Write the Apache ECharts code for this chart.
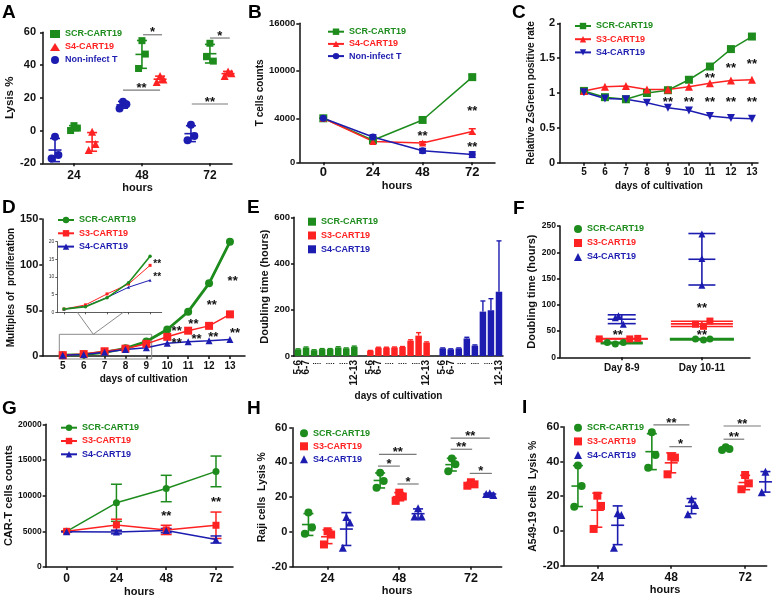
<!DOCTYPE html>
<html>
<head>
<meta charset="utf-8">
<script src="https://cdn.jsdelivr.net/npm/echarts@6.0.0/dist/echarts.min.js"></script>
<style>
html,body{margin:0;padding:0;background:#fff;}
#chart{width:778px;height:596px;}
</style>
</head>
<body>
<div id="chart"></div>
<script>
// ================= DATA =================
// Panel A : Lysis % (three replicates per group)
const A_hours = [24, 48, 72];
const A_scr = [[3, 1.5, 0], [54.9, 46.7, 37.9], [53.3, 42.4, 45.1]];
const A_s4  = [[-0.7, -8.2, -11.9], [33.3, 31.2, 29.6], [36, 35, 33.3]];
const A_non = [[-3.8, -14.9, -17], [17.6, 16, 13.5], [3.5, -3.3, -5.9]];
const A_sig = [[48.4, 55.1, 58.5, '*'], [41.3, 54.4, 24.7, '**'], [72, 79, 56.5, '*'], [65.6, 78.4, 16.2, '**']];

// Panel B : T cells counts
const B_hours = [0, 24, 48, 72];
const B_scr = [4000, 2000, 3850, 9200];
const B_scrSD = [0, 150, 200, 300];
const B_s4 = [4000, 1900, 1750, 2800];
const B_s4SD = [0, 100, 120, 250];
const B_non = [4000, 2300, 1050, 700];
const B_nonSD = [0, 200, 200, 250];
const B_yTicks = [0, 4000, 10000, 16000];
const B_stars = [[48, 2660, '**'], [72, 5300, '**'], [72, 1660, '**']];

// Panel C : Relative ZsGreen positive rate
const C_days = [5, 6, 7, 8, 9, 10, 11, 12, 13];
const C_scr = [1.03, 0.94, 0.91, 1.0, 1.04, 1.19, 1.38, 1.63, 1.81];
const C_s3  = [1.03, 1.09, 1.10, 1.05, 1.05, 1.09, 1.14, 1.18, 1.19];
const C_s4  = [1.01, 0.92, 0.91, 0.86, 0.79, 0.75, 0.67, 0.64, 0.63];
const C_stars = [[9, 0.914, '**'], [10, 0.914, '**'], [11, 0.914, '**'], [12, 0.914, '**'], [13, 0.914, '**'],
                 [11, 1.25, '**'], [12, 1.39, '**'], [13, 1.46, '**']];

// Panel D : Multiples of proliferation
const D_days = [5, 6, 7, 8, 9, 10, 11, 12, 13];
const D_scr = [0.9, 1.6, 4.1, 8.4, 15.9, 29, 48.5, 79.6, 125];
const D_s3  = [0.9, 2.1, 5.2, 8.0, 13.3, 21, 27.7, 33, 45.6];
const D_s4  = [0.9, 1.7, 4.2, 7.1, 9.1, 14, 15.7, 16.8, 18];
const D_insetDays = [5, 6, 7, 8, 9];
const D_stars = [[10.45, 30.3, '**'], [10.45, 16.8, '**'], [11.25, 38.3, '**'], [11.4, 21.2, '**'],
                 [12.13, 58.8, '**'], [12.2, 23.8, '**'], [13.13, 85, '**'], [13.24, 28.5, '**']];
const D_insetStars = [[9.33, 14.5, '**'], [9.33, 10.85, '**']];

// Panel E : Doubling time (hours) per interval
const E_labels = ['5-6', '6-7', '', '', '', '', '', '12-13'];
const E_scr = [29, 36, 25, 30, 30, 37, 33, 40];
const E_scrErr = [2, 3, 2, 2, 2, 3, 2, 3];
const E_s3  = [23, 36, 36, 37, 39, 66, 88, 58];
const E_s3Err = [1, 2, 2, 2, 2, 4, 13, 3];
const E_s4  = [33, 29, 33, 76, 45, 192, 198, 278];
const E_s4Err = [2, 2, 2, 5, 3, 46, 50, 220];

// Panel F : Doubling time (hours)
const F_groups = ['Day 8-9', 'Day 10-11'];
const F_scr = [[28, 25.5, 28], [35, 33, 35]];
const F_s3  = [[35, 35, 36], [63, 59, 69]];
const F_s4  = [[75.5, 79, 63], [235, 188, 137]];
const F_stars = [[0.95, 48, '**'], [2, 99.4, '**'], [2, 46.8, '**']];

// Panel G : CAR-T cells counts
const G_hours = [0, 24, 48, 72];
const G_scr = [5000, 9000, 11000, 13400];
const G_scrSD = [0, 2600, 1850, 2150];
const G_s3 = [5000, 5900, 5200, 5850];
const G_s3SD = [0, 800, 650, 1850];
const G_s4 = [4950, 4900, 5100, 3850];
const G_s4SD = [0, 250, 300, 500];
const G_stars = [[48, 7520, '**'], [72, 9520, '**']];

// Panel H : Raji cells Lysis %
const H_hours = [24, 48, 72];
const H_scr = [[11.2, 2.6, -1], [34.1, 29.3, 25.5], [42.3, 38.9, 35]];
const H_s3  = [[0.4, -1.5, -7.2], [22.6, 20.4, 17.9], [28.6, 27.4, 26.6]];
const H_s4  = [[8.6, 5.5, -9.1], [13.7, 8.9, 8.9], [22.3, 21.3, 21.9]];
const H_sig = [[40.9, 48.2, 37.9, '*'], [41.2, 53.8, 44.6, '**'], [47.4, 54.5, 27.6, '*'],
               [65.2, 78.3, 54, '**'], [65.2, 72.4, 47.6, '**'], [71.6, 79, 33.7, '*']];

// Panel I : A549-19 cells Lysis %
const I_hours = [24, 48, 72];
const I_scr = [[37.6, 25.9, 14], [56.8, 43.7, 36.4], [48.2, 47.2, 46.6]];
const I_s3  = [[20.3, 14.4, 1.15], [42.8, 42.2, 32.6], [32.2, 27.4, 24]];
const I_s4  = [[10.2, 9.2, -9.6], [18.2, 15, 9.6], [34.1, 28.4, 22.3]];
const I_sig = [[42.2, 53.9, 61, '**'], [47.4, 54.7, 48.5, '*'], [65, 77.1, 60.4, '**'], [65, 71.7, 52.8, '**']];

// ================= STYLE =================
const FONT = '"Liberation Sans", Arial, sans-serif';
const INK = '#111';
const GREEN = '#1d8c1d', RED = '#ff2222', BLUE = '#1c1cb0';
const DOWN_TRI = 'path://M0,0L10,0L5,9Z';
const STAR_DY = 3;   // glyph centre correction for asterisks
const SIG_DY = 2;    // asterisk above bracket line
const JIT = [0, 1.2, -1.2];
const plain = v => String(v);

function merge(a, b) {
  const o = Object.assign({}, a);
  for (const k in b) {
    const bv = b[k], av = a[k];
    if (bv && typeof bv === 'object' && !Array.isArray(bv) && av && typeof av === 'object' && !Array.isArray(av)) o[k] = merge(av, bv);
    else o[k] = bv;
  }
  return o;
}
function axis(type, gi, extra) {
  const base = {
    type: type, gridIndex: gi,
    axisLine: {show: true, onZero: false, lineStyle: {color: INK, width: 1.5}},
    axisTick: {show: true, length: 3, inside: false, lineStyle: {color: INK, width: 1.5}},
    splitLine: {show: false},
    axisLabel: {color: INK, fontWeight: 'bold', fontFamily: FONT, fontSize: 11, margin: 5, showMinLabel: true, showMaxLabel: true, hideOverlap: false},
    nameLocation: 'middle',
    nameTextStyle: {color: INK, fontWeight: 'bold', fontFamily: FONT, fontSize: 11}
  };
  if (type === 'value') base.axisLabel.formatter = plain;
  return merge(base, extra || {});
}
const mean = a => a.reduce((s, v) => s + v, 0) / a.length;
const sd = a => { const m = mean(a); return Math.sqrt(a.reduce((s, v) => s + (v - m) * (v - m), 0) / (a.length - 1)); };

function errRender(opt) {
  return function (params, api) {
    const x = api.value(0), m = api.value(1), lo = api.value(2), hi = api.value(3);
    const c = api.coord([x, m]), pl = api.coord([x, lo]), ph = api.coord([x, hi]);
    const st = {stroke: opt.color, lineWidth: opt.lw, fill: null};
    const mw = typeof opt.meanW === 'function' ? opt.meanW(params.dataIndex) : opt.meanW;
    const cw = typeof opt.capW === 'function' ? opt.capW(params.dataIndex) : opt.capW;
    const ch = [];
    ch.push({type: 'line', shape: {x1: c[0], y1: ph[1], x2: c[0], y2: opt.upperOnly ? c[1] : pl[1]}, style: st});
    ch.push({type: 'line', shape: {x1: c[0] - cw / 2, y1: ph[1], x2: c[0] + cw / 2, y2: ph[1]}, style: st});
    if (!opt.upperOnly) ch.push({type: 'line', shape: {x1: c[0] - cw / 2, y1: pl[1], x2: c[0] + cw / 2, y2: pl[1]}, style: st});
    if (mw > 0) ch.push({type: 'line', shape: {x1: c[0] - mw / 2, y1: c[1], x2: c[0] + mw / 2, y2: c[1]}, style: st});
    return {type: 'group', children: ch};
  };
}

function dotPlot(gi, key, name, xs, reps, offset, jit, color, symbol, size, meanW, capW) {
  const pts = [], eb = [];
  reps.forEach((r, g) => {
    const cx = xs[g] + offset;
    const jj = Array.isArray(jit[0]) ? jit[g] : jit;
    r.forEach((v, k) => pts.push([cx + jj[k], v]));
    const m = mean(r), s = sd(r);
    eb.push([cx, m, m - s, m + s]);
  });
  return [
    {type: 'scatter', name: key + '|' + name, xAxisIndex: gi, yAxisIndex: gi, data: pts, symbol: symbol, symbolSize: size, itemStyle: {color: color, opacity: 1}, z: 4},
    {type: 'custom', xAxisIndex: gi, yAxisIndex: gi, data: eb, renderItem: errRender({meanW: meanW, capW: capW, lw: 1.6, color: color}), z: 3}
  ];
}

function lineSeries(gi, key, name, xs, ys, color, symbol, size, lw, sds, capW, tf) {
  tf = tf || (v => v);
  const s = [{type: 'line', name: key ? key + '|' + name : undefined, xAxisIndex: gi, yAxisIndex: gi,
    data: xs.map((x, i) => [x, tf(ys[i])]), symbol: symbol, symbolSize: size, showSymbol: true,
    lineStyle: {color: color, width: lw}, itemStyle: {color: color}, z: 4}];
  if (sds) s.push({type: 'custom', xAxisIndex: gi, yAxisIndex: gi,
    data: xs.map((x, i) => [x, tf(ys[i]), tf(ys[i] - sds[i]), tf(ys[i] + sds[i])]),
    renderItem: errRender({meanW: 0, capW: capW, lw: 1.5, color: color}), z: 3});
  return s;
}

function starSeries(gi, items, fs, tf) {
  tf = tf || (v => v);
  return {type: 'custom', xAxisIndex: gi, yAxisIndex: gi, z: 6, silent: true,
    data: items.map(d => [d[0], tf(d[1])]),
    renderItem: function (params, api) {
      const p = api.coord([api.value(0), api.value(1)]);
      return {type: 'text', x: p[0], y: p[1] + STAR_DY,
        style: {text: items[params.dataIndex][2], fill: INK, fontSize: fs, fontWeight: 'bold', fontFamily: FONT, align: 'center', verticalAlign: 'middle'}};
    }};
}
function sigSeries(gi, items, fs) {
  return {type: 'custom', xAxisIndex: gi, yAxisIndex: gi, z: 6, silent: true,
    data: items.map(d => [d[0], d[1], d[2]]),
    renderItem: function (params, api) {
      const a = api.coord([api.value(0), api.value(2)]), b = api.coord([api.value(1), api.value(2)]);
      return {type: 'group', children: [
        {type: 'line', shape: {x1: a[0], y1: a[1], x2: b[0], y2: b[1]}, style: {stroke: '#7a7a7a', lineWidth: 1.2}},
        {type: 'text', x: (a[0] + b[0]) / 2, y: a[1] - SIG_DY,
          style: {text: items[params.dataIndex][3], fill: INK, fontSize: fs, fontWeight: 'bold', fontFamily: FONT, align: 'center', verticalAlign: 'middle'}}
      ]};
    }};
}

function legend(key, names, colors, left, top, gap, iw, ih, icons) {
  return {
    left: left, top: top, orient: 'vertical', padding: 0, itemGap: gap, itemWidth: iw, itemHeight: ih,
    selectedMode: false,
    formatter: n => n.split('|')[1],
    textStyle: {fontSize: 9, fontWeight: 'bold', fontFamily: FONT, lineHeight: 10, padding: [0, 0, 0, 0]},
    data: names.map((n, i) => {
      const d = {name: key + '|' + n, textStyle: {color: colors[i]}};
      if (icons && icons[i]) d.icon = icons[i];
      return d;
    })
  };
}

// B: Prism-style two-segment y scale (0-4000 and 4000-16000)
const bY = v => v <= 4000 ? v / 4000 * 44 : 44 + (v - 4000) / 12000 * 95;

// ================= LAYOUT =================
const G_ = (l, t, w, h) => ({left: l, top: t, width: w, height: h, containLabel: false, outerBoundsMode: 'none', show: false});
const grids = [
  G_(43, 32.3, 189, 131),        // 0 A
  G_(299.3, 23.3, 195.7, 139),   // 1 B
  G_(560, 23.3, 198, 139.4),     // 2 C
  G_(42.3, 219, 202.7, 137),     // 3 D
  G_(57.3, 241.7, 104.4, 70.6),  // 4 D inset
  G_(294, 217.3, 209, 138.7),    // 5 E
  G_(560, 226, 190, 131.3),      // 6 F
  G_(45.7, 424.3, 187.3, 142.7), // 7 G
  G_(292.3, 427.7, 209.4, 139),  // 8 H
  G_(563.3, 426.7, 203.4, 139)   // 9 I
];

// E categories
const E_cats = [], E_lab = [];
for (let g = 0; g < 3; g++) {
  for (let i = 0; i < E_labels.length; i++) { E_cats.push('g' + g + 'i' + i); E_lab.push(E_labels[i]); }
  if (g < 2) { E_cats.push('gap' + g); E_lab.push(''); }
}
function eBars(vals, g) { const d = E_cats.map(() => '-'); vals.forEach((v, i) => { d[g * 9 + i] = v; }); return d; }
function eErr(vals, errs, g) { return vals.map((v, i) => [g * 9 + i, v, v, v + errs[i]]); }

const xAxes = [
  axis('value', 0, {min: 13.06, max: 79.8, name: 'hours', nameGap: 19, axisLabel: {customValues: A_hours, fontSize: 12, margin: 6}, axisTick: {customValues: A_hours}}),
  axis('value', 1, {min: -11.6, max: 83, name: 'hours', nameGap: 17, axisLabel: {customValues: B_hours, fontSize: 13, margin: 4}, axisTick: {customValues: B_hours}}),
  axis('value', 2, {min: 3.86, max: 13.29, name: 'days of cultivation', nameGap: 19, nameTextStyle: {fontSize: 10}, axisLabel: {customValues: C_days, fontSize: 10, margin: 5}, axisTick: {customValues: C_days}}),
  axis('value', 3, {min: 4.02, max: 13.72, name: 'days of cultivation', nameGap: 18, nameTextStyle: {fontSize: 10}, axisLabel: {customValues: D_days, fontSize: 10, margin: 5}, axisTick: {customValues: D_days}}),
  axis('value', 4, {min: 4.69, max: 9.54, axisLine: {lineStyle: {width: 0.8, color: '#333'}}, axisTick: {customValues: D_insetDays, length: 2, lineStyle: {width: 0.8, color: '#333'}}, axisLabel: {show: false}}),
  axis('category', 5, {data: E_cats, boundaryGap: true, name: 'days of cultivation', nameGap: 35, nameTextStyle: {fontSize: 10},
    axisTick: {show: false}, axisLabel: {interval: 0, rotate: 90, fontSize: 10, margin: 4, formatter: (v, i) => E_lab[i]}}),
  axis('value', 6, {min: 0.23, max: 2.6, axisLabel: {customValues: [1, 2], fontSize: 10, margin: 6, formatter: v => F_groups[Math.round(v) - 1]}, axisTick: {customValues: [1, 2]}}),
  axis('value', 7, {min: -10.1, max: 80.2, name: 'hours', nameGap: 19, axisLabel: {customValues: G_hours, fontSize: 12, margin: 6}, axisTick: {customValues: G_hours}}),
  axis('value', 8, {min: 12.2, max: 82.3, name: 'hours', nameGap: 19, axisLabel: {customValues: H_hours, fontSize: 12.5, margin: 5}, axisTick: {customValues: H_hours}}),
  axis('value', 9, {min: 12.95, max: 79, name: 'hours', nameGap: 18, axisLabel: {customValues: I_hours, fontSize: 12, margin: 6}, axisTick: {customValues: I_hours}})
];
const bTickT = B_yTicks.map(bY);
const yAxes = [
  axis('value', 0, {min: -20, max: 60, interval: 20, name: 'Lysis %', nameGap: 25, nameTextStyle: {fontSize: 11.5}, axisLabel: {fontSize: 11, margin: 7}}),
  axis('value', 1, {min: 0, max: 139, name: 'T cells counts', nameGap: 32, nameTextStyle: {fontSize: 10},
    axisLabel: {customValues: bTickT, fontSize: 9.5, margin: 4, formatter: v => String(B_yTicks[bTickT.indexOf(v)] ?? '')}, axisTick: {customValues: bTickT}}),
  axis('value', 2, {min: 0, max: 2, interval: 0.5, name: 'Relative ZsGreen positive rate', nameGap: 23, nameTextStyle: {fontSize: 10}, axisLabel: {fontSize: 11, margin: 5}}),
  axis('value', 3, {min: 0, max: 150, interval: 50, name: 'Multiples of  proliferation', nameGap: 20, nameTextStyle: {fontSize: 10}, axisLabel: {fontSize: 11, margin: 4}}),
  axis('value', 4, {min: 0, max: 20, interval: 5, axisLine: {lineStyle: {width: 0.8, color: '#333'}}, axisTick: {length: 2, lineStyle: {width: 0.8, color: '#333'}}, axisLabel: {fontSize: 5, fontWeight: 'normal', margin: 3, color: '#333'}}),
  axis('value', 5, {min: 0, max: 600, interval: 200, name: 'Doubling time (hours)', nameGap: 23, nameTextStyle: {fontSize: 11}, axisLabel: {fontSize: 9.5, margin: 4}}),
  axis('value', 6, {min: 0, max: 250, interval: 50, name: 'Doubling time (hours)', nameGap: 18, nameTextStyle: {fontSize: 11}, axisLabel: {fontSize: 8.5, margin: 4}}),
  axis('value', 7, {min: 0, max: 20000, interval: 5000, name: 'CAR-T cells counts', nameGap: 30, nameTextStyle: {fontSize: 11}, axisLabel: {fontSize: 8.5, margin: 4}}),
  axis('value', 8, {min: -20, max: 60, interval: 20, name: 'Raji cells  Lysis %', nameGap: 22, nameTextStyle: {fontSize: 10.5}, axisLabel: {fontSize: 11, margin: 5}}),
  axis('value', 9, {min: -20, max: 60, interval: 20, name: 'A549-19 cells  Lysis %', nameGap: 19, nameTextStyle: {fontSize: 10.5}, axisLabel: {fontSize: 11.5, margin: 4}})
];

// ================= SERIES =================
let series = [];
// A
series = series.concat(
  dotPlot(0, 'A', 'SCR-CART19', A_hours, A_scr, 0, JIT, GREEN, 'rect', 7, 13, 10),
  dotPlot(0, 'A', 'S4-CART19', A_hours, A_s4, 6.4, JIT, RED, 'triangle', 8, 13, 10),
  dotPlot(0, 'A', 'Non-infect T', A_hours, A_non, -6.7, JIT, BLUE, 'circle', 8, 13, 10),
  [sigSeries(0, A_sig, 13)]
);
// B
series = series.concat(
  lineSeries(1, 'B', 'SCR-CART19', B_hours, B_scr, GREEN, 'rect', 8, 1.5, B_scrSD, 7, bY),
  lineSeries(1, 'B', 'S4-CART19', B_hours, B_s4, RED, 'triangle', 7, 1.5, B_s4SD, 7, bY),
  lineSeries(1, 'B', 'Non-infect T', B_hours, B_non, BLUE, 'circle', 7, 1.5, B_nonSD, 7, bY),
  [starSeries(1, B_stars, 13, bY)]
);
// C
series = series.concat(
  lineSeries(2, 'C', 'SCR-CART19', C_days, C_scr, GREEN, 'rect', 8, 1.5),
  lineSeries(2, 'C', 'S3-CART19', C_days, C_s3, RED, 'triangle', 8, 1.5),
  lineSeries(2, 'C', 'S4-CART19', C_days, C_s4, BLUE, DOWN_TRI, 8, 1.5),
  [starSeries(2, C_stars, 13)]
);
// D
series = series.concat(
  lineSeries(3, 'D', 'SCR-CART19', D_days, D_scr, GREEN, 'circle', 8, 2.8),
  lineSeries(3, 'D', 'S3-CART19', D_days, D_s3, RED, 'rect', 8, 1.5),
  lineSeries(3, 'D', 'S4-CART19', D_days, D_s4, BLUE, 'triangle', 7, 1.5),
  [starSeries(3, D_stars, 13)],
  lineSeries(4, null, '', D_insetDays, D_s3.slice(0, 5), RED, 'rect', 3, 1),
  lineSeries(4, null, '', D_insetDays, D_s4.slice(0, 5), BLUE, 'triangle', 3, 1),
  lineSeries(4, null, '', D_insetDays, D_scr.slice(0, 5), GREEN, 'circle', 3.5, 1.6),
  [starSeries(4, D_insetStars, 10)]
);
// E
const E_sets = [[E_scr, E_scrErr, GREEN, 'SCR-CART19'], [E_s3, E_s3Err, RED, 'S3-CART19'], [E_s4, E_s4Err, BLUE, 'S4-CART19']];
E_sets.forEach((s, g) => {
  series.push({type: 'bar', name: 'E|' + s[3], xAxisIndex: 5, yAxisIndex: 5, data: eBars(s[0], g), barWidth: 6.5, barGap: '-100%', itemStyle: {color: s[2]}, z: 3});
  series.push({type: 'custom', xAxisIndex: 5, yAxisIndex: 5, data: eErr(s[0], s[1], g), z: 2,
    renderItem: errRender({meanW: 0, capW: 5, lw: 1.4, color: s[2], upperOnly: true})});
});
series.push({type: 'custom', xAxisIndex: 5, yAxisIndex: 5, silent: true, z: 5, data: [[4], [13], [22]],
  renderItem: function (params, api) {
    const p = api.coord([api.value(0), 0]);
    return {type: 'text', x: p[0], y: p[1] + 6, style: {text: '....  ....  ....', fill: INK, fontSize: 8, fontWeight: 'bold', fontFamily: FONT, align: 'center', verticalAlign: 'middle'}};
  }});
// F
const F_x = [1, 2];
series = series.concat(
  dotPlot(6, 'F', 'SCR-CART19', F_x, F_scr, 0, [[-0.18, -0.08, 0.02], [-0.08, 0.02, 0.1]], GREEN, 'circle', 7, 0, 0),
  dotPlot(6, 'F', 'S3-CART19', F_x, F_s3, 0, [[-0.28, 0.1, 0.2], [-0.08, 0.02, 0.1]], RED, 'rect', 7, 0, 0),
  dotPlot(6, 'F', 'S4-CART19', F_x, F_s4, 0, [[-0.08, -0.04, 0.02], [0, 0, 0]], BLUE, 'triangle', 7, 0, 0),
  [starSeries(6, F_stars, 13)]
);
// F mean/sd widths (px)
const F_w = {'SCR-CART19': [42, 64], 'S3-CART19': [52, 62], 'S4-CART19': [28, 27]};
series.forEach((s, idx) => {
  if (s.type === 'custom' && s.xAxisIndex === 6 && s.data && s.data[0] && s.data[0].length === 4) {
    const nm = series[idx - 1].name.split('|')[1];
    const col = series[idx - 1].itemStyle.color;
    s.renderItem = errRender({meanW: i => F_w[nm][i], capW: i => F_w[nm][i], lw: 1.6, color: col});
  }
});
// G
series = series.concat(
  lineSeries(7, 'G', 'SCR-CART19', G_hours, G_scr, GREEN, 'circle', 7, 1.5, G_scrSD, 11),
  lineSeries(7, 'G', 'S3-CART19', G_hours, G_s3, RED, 'rect', 7, 1.5, G_s3SD, 11),
  lineSeries(7, 'G', 'S4-CART19', G_hours, G_s4, BLUE, 'triangle', 7, 1.5, G_s4SD, 11),
  [starSeries(7, G_stars, 13)]
);
// H
series = series.concat(
  dotPlot(8, 'H', 'SCR-CART19', H_hours, H_scr, -6.4, JIT, GREEN, 'circle', 8, 13, 10),
  dotPlot(8, 'H', 'S3-CART19', H_hours, H_s3, 0, JIT, RED, 'rect', 8, 13, 10),
  dotPlot(8, 'H', 'S4-CART19', H_hours, H_s4, 6.3, JIT, BLUE, 'triangle', 8, 13, 10),
  [sigSeries(8, H_sig, 13)]
);
// I
series = series.concat(
  dotPlot(9, 'I', 'SCR-CART19', I_hours, I_scr, -6.3, JIT, GREEN, 'circle', 8, 13, 10),
  dotPlot(9, 'I', 'S3-CART19', I_hours, I_s3, 0, JIT, RED, 'rect', 8, 13, 10),
  dotPlot(9, 'I', 'S4-CART19', I_hours, I_s4, 6.6, JIT, BLUE, 'triangle', 8, 13, 10),
  [sigSeries(9, I_sig, 13)]
);

const C3 = [GREEN, RED, BLUE];
const legends = [
  legend('A', ['SCR-CART19', 'S4-CART19', 'Non-infect T'], C3, 50, 29, 3, 10, 8),
  legend('B', ['SCR-CART19', 'S4-CART19', 'Non-infect T'], C3, 327, 26.7, 2.2, 16, 8),
  legend('C', ['SCR-CART19', 'S3-CART19', 'S4-CART19'], C3, 574, 21, 3.2, 16, 8),
  legend('D', ['SCR-CART19', 'S3-CART19', 'S4-CART19'], C3, 57, 215, 3.3, 16, 8),
  legend('E', ['SCR-CART19', 'S3-CART19', 'S4-CART19'], C3, 308, 216.7, 3.8, 8, 8, ['rect', 'rect', 'rect']),
  legend('F', ['SCR-CART19', 'S3-CART19', 'S4-CART19'], C3, 574, 224, 4, 8, 8),
  legend('G', ['SCR-CART19', 'S3-CART19', 'S4-CART19'], C3, 60, 422.7, 3.3, 16, 8),
  legend('H', ['SCR-CART19', 'S3-CART19', 'S4-CART19'], C3, 300, 428.3, 3, 8, 8),
  legend('I', ['SCR-CART19', 'S3-CART19', 'S4-CART19'], C3, 574, 422.7, 3.7, 8, 8)
];

const panelLetters = [['A', 2, 13], ['B', 248, 13], ['C', 512, 13], ['D', 2, 208], ['E', 247, 208], ['F', 513, 209], ['G', 2, 409], ['H', 247, 409], ['I', 522, 408]];
const graphics = panelLetters.map(l => ({type: 'text', x: l[1], y: l[2], z: 10,
  style: {text: l[0], fill: '#000', fontSize: 19, fontWeight: 'bold', fontFamily: FONT, verticalAlign: 'middle'}}));
// D zoom box and connectors (annotation)
graphics.push({type: 'rect', shape: {x: 59.3, y: 334.3, width: 92.4, height: 24.7}, style: {fill: 'none', stroke: '#8a8a8a', lineWidth: 1}, z: 1});
graphics.push({type: 'polyline', shape: {points: [[77.3, 312.3], [93.3, 334.3], [123.3, 312.3]]}, style: {fill: 'none', stroke: '#8a8a8a', lineWidth: 1}, z: 1});

const chart = echarts.init(document.getElementById('chart'), null, {renderer: 'canvas'});
chart.setOption({
  animation: false,
  backgroundColor: '#fff',
  grid: grids,
  xAxis: xAxes,
  yAxis: yAxes,
  legend: legends,
  series: series,
  graphic: graphics
});
</script>
</body>
</html>
